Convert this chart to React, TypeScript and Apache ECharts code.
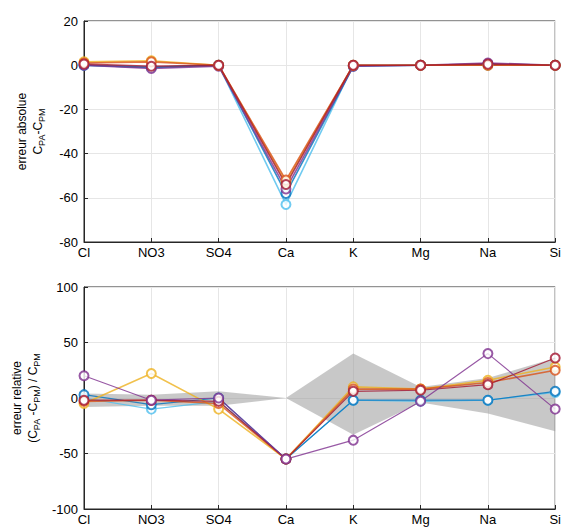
import React, { useEffect, useRef } from "react";
import * as echarts from "echarts";

const categories = ["Cl", "NO3", "SO4", "Ca", "K", "Mg", "Na", "Si"];

// absolute error (top)
const absBlue = [0, -1, 0, -58, -0.5, 0, 0.5, 0];
const absOrange = [1, 1.5, 0, -52, 0, 0, 0, 0];
const absYellow = [1.5, 2, 0, -53, 0, 0, 0, 0];
const absPurple = [0, -1.5, -0.5, -56, -0.5, 0, 1, 0];
const absCyan = [0, -1, 0, -63, 0, 0, 0, 0];
const absDarkRed = [0.5, -0.5, 0, -54, 0, 0, 0.5, 0];

// relative error (bottom)
const relBlue = [3, -6, 0, -55, -2, -2, -2, 6];
const relOrange = [-3, -2, -5, -55, 8, 8, 14, 25];
const relYellow = [-5, 22, -10, -55, 10, 8, 16, 28];
const relPurple = [20, -2, 0, -55, -38, -3, 40, -10];
const relCyan = [0, -10, -3, -55, -2, -3, -2, 5];
const relDarkRed = [-2, -2, -3, -55, 6, 7, 12, 36];

const bandUpper = [4, 3, 6, 0, 40, 10, 18, 36];
const bandLower = [-8, -7, -7, 0, -33, -4, -14, -30];

const topTicks = { min: -80, max: 20, interval: 20 };
const bottomTicks = { min: -100, max: 100, interval: 50 };

const colors = {
  blue: "#0072BD",
  orange: "#D95319",
  yellow: "#EDB120",
  purple: "#7E2F8E",
  cyan: "#4DBEEE",
  darkRed: "#A2142F",
};

const FONT = "Liberation Sans, Arial, Helvetica, sans-serif";

export default function App() {
  const ref = useRef<HTMLDivElement>(null);
  useEffect(() => {
    if (!ref.current) return;
    const chart = echarts.init(ref.current, null, { renderer: "svg" });

    const lineSeries = (
      data: number[],
      color: string,
      axisIdx: number,
      width: number
    ) => ({
      type: "line",
      data,
      xAxisIndex: axisIdx,
      yAxisIndex: axisIdx,
      symbol: "emptyCircle",
      symbolSize: 9,
      lineStyle: { color, width, opacity: 0.8 },
      itemStyle: { color, borderColor: color, borderWidth: 1.3, opacity: 0.8 },
      z: 3,
    });

    const diff = bandUpper.map((u, i) => u - bandLower[i]);

    const xAxisBase = (gridIndex: number) => ({
      type: "category",
      gridIndex,
      data: categories,
      boundaryGap: false,
      axisLine: { onZero: false, lineStyle: { color: "#262626", width: 1 } },
      axisTick: { inside: true, length: 4, lineStyle: { color: "#262626" } },
      axisLabel: { color: "#000", fontSize: 13, fontFamily: FONT, margin: 4 },
      splitLine: { show: true, lineStyle: { color: "#e6e6e6", width: 1 } },
    });

    const rich = {
      n: { fontSize: 12, fontFamily: FONT, color: "#000", lineHeight: 16 },
      s: {
        fontSize: 9,
        fontFamily: FONT,
        color: "#000",
        lineHeight: 16,
        padding: [7, 0, 0, 0],
      },
    };

    const yAxisBase = (gridIndex: number, ticks: any, name: string, gap: number) => ({
      type: "value",
      gridIndex,
      min: ticks.min,
      max: ticks.max,
      interval: ticks.interval,
      name,
      nameLocation: "middle",
      nameRotate: 90,
      nameGap: gap,
      nameTextStyle: { color: "#000", fontFamily: FONT, fontSize: 12, rich },
      axisLine: { show: true, onZero: false, lineStyle: { color: "#262626", width: 1 } },
      axisTick: { show: true, inside: true, length: 4, lineStyle: { color: "#262626" } },
      axisLabel: { color: "#000", fontSize: 13, fontFamily: FONT, margin: 6 },
      splitLine: { show: true, lineStyle: { color: "#e6e6e6", width: 1 } },
    });

    chart.setOption({
      animation: false,
      backgroundColor: "#ffffff",
      grid: [
        { left: 84, right: 8, top: 21, height: 221, show: true, borderColor: "#262626", borderWidth: 1, backgroundColor: "transparent" },
        { left: 84, right: 8, top: 287, height: 222, show: true, borderColor: "#262626", borderWidth: 1, backgroundColor: "transparent" },
      ],
      xAxis: [xAxisBase(0), xAxisBase(1)],
      yAxis: [
        yAxisBase(0, topTicks, "{n|erreur absolue}\n{n|C}{s|PA}{n|-C}{s|PM}", 38),
        yAxisBase(1, bottomTicks, "{n|erreur relative}\n{n|(C}{s|PA}{n| -C}{s|PM}{n|) / C}{s|PM}", 38),
      ],
      series: [
        {
          type: "line",
          xAxisIndex: 1,
          yAxisIndex: 1,
          data: bandLower,
          stack: "band",
          stackStrategy: "all",
          symbol: "none",
          lineStyle: { opacity: 0 },
          silent: true,
          z: 1,
        },
        {
          type: "line",
          xAxisIndex: 1,
          yAxisIndex: 1,
          data: diff,
          stack: "band",
          stackStrategy: "all",
          symbol: "none",
          lineStyle: { opacity: 0 },
          areaStyle: { color: "#9a9a9a", opacity: 0.55 },
          silent: true,
          z: 1,
        },
        lineSeries(absCyan, colors.cyan, 0, 1.6),
        lineSeries(absBlue, colors.blue, 0, 1.6),
        lineSeries(absPurple, colors.purple, 0, 1.6),
        lineSeries(absYellow, colors.yellow, 0, 1.6),
        lineSeries(absOrange, colors.orange, 0, 1.6),
        lineSeries(absDarkRed, colors.darkRed, 0, 1.6),
        lineSeries(relCyan, colors.cyan, 1, 1.2),
        lineSeries(relBlue, colors.blue, 1, 1.2),
        lineSeries(relYellow, colors.yellow, 1, 1.6),
        lineSeries(relOrange, colors.orange, 1, 1.6),
        lineSeries(relDarkRed, colors.darkRed, 1, 1.2),
        lineSeries(relPurple, colors.purple, 1, 1.2),
      ],
    });
    return () => chart.dispose();
  }, []);
  return (
    <div
      ref={ref}
      style={{ position: "fixed", left: 0, top: 0, width: 564, height: 529, background: "#fff" }}
    />
  );
}
